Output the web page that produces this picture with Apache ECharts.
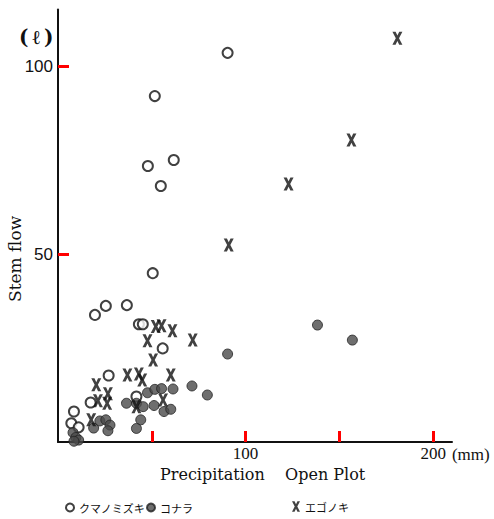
<!DOCTYPE html>
<html><head><meta charset="utf-8">
<script src="https://cdn.jsdelivr.net/npm/echarts@6/dist/echarts.min.js"></script>
<style>html,body{margin:0;padding:0;background:#fff}#c{width:494px;height:519px}</style>
</head><body><div id="c"></div>
<script>
// Precipitation (open plot, mm) vs stem flow (litres)
const seriesNames = ['クマノミズキ', 'コナラ', 'エゴノキ'];
const kumanomizukiX = [90.4, 51.6, 47.9, 61.7, 54.8, 50.5, 19.7, 25.5, 36.7, 43.1, 45.2, 55.8, 27.0, 41.8, 17.4, 8.5, 7.1, 11.0];
const kumanomizukiY = [103.5, 92.0, 73.4, 75.0, 68.1, 44.9, 33.8, 36.2, 36.4, 31.3, 31.3, 24.9, 17.7, 12.1, 10.5, 8.1, 5.0, 3.9];
const konaraX = [138.3, 156.9, 90.4, 47.7, 51.6, 55.2, 61.3, 71.4, 79.6, 36.5, 41.8, 45.4, 51.2, 56.5, 60.1, 44.1, 41.8, 19.0, 22.3, 25.5, 27.7, 26.6, 8.0, 9.5, 11.0, 8.5];
const konaraY = [31.1, 27.1, 23.4, 13.1, 14.0, 14.2, 14.1, 14.9, 12.5, 10.3, 10.3, 9.4, 9.7, 8.1, 8.7, 5.9, 3.6, 3.7, 5.6, 5.9, 4.5, 3.0, 2.5, 1.2, 0.5, 0.2];
const egonokiX = [180.9, 156.4, 122.9, 91.0, 71.8, 52.1, 55.2, 61.0, 47.7, 50.7, 37.0, 43.1, 44.9, 60.1, 56.0, 41.8, 20.4, 26.6, 21.3, 26.2, 17.7];
const egonokiY = [107.4, 80.3, 68.6, 52.4, 27.1, 30.7, 30.9, 29.6, 26.9, 21.8, 17.8, 18.1, 16.5, 17.8, 11.2, 9.4, 15.2, 12.8, 11.0, 10.3, 5.9];
const xTicks = [50, 100, 150, 200];
const xTickLabels = [100, 200];
const yTicks = [50, 100];
const yTickLabels = [50, 100];

function pairs(xs, ys) { return xs.map((x, i) => [x, ys[i]]); }

const xSymbol = 'path://M0,0 L3.2,0 L5,3.8 L6.8,0 L10,0 L6.6,6.5 L10,13 L6.8,13 L5,9.2 L3.2,13 L0,13 L3.4,6.5 Z';
const serif = "'Liberation Serif', 'DejaVu Serif', serif";
const dserif = "'DejaVu Serif', 'Liberation Serif', serif";
const sans = "'Liberation Sans', 'DejaVu Sans', sans-serif";
const jp = "'Noto Sans CJK JP', sans-serif";

const chart = echarts.init(document.getElementById('c'), null, {renderer: 'svg'});
chart.setOption({
  animation: false,
  grid: {left: 58, right: 42, top: 9.6, bottom: 77},
  xAxis: {
    type: 'value', min: 0, max: 210,
    splitLine: {show: false},
    axisLine: {show: true, lineStyle: {color: '#111', width: 2}},
    axisTick: {show: true, inside: true, length: 11, customValues: xTicks, lineStyle: {color: '#f00', width: 3}},
    axisLabel: {
      customValues: xTickLabels,
      color: '#111', fontFamily: serif, fontSize: 17, margin: 3
    },
    name: '(mm)', nameLocation: 'end', nameGap: -5,
    nameTextStyle: {color: '#111', fontFamily: serif, fontSize: 17, align: 'left', verticalAlign: 'top', padding: [4, 0, 0, 0]}
  },
  yAxis: {
    type: 'value', min: 0, max: 115,
    splitLine: {show: false},
    axisLine: {show: true, lineStyle: {color: '#111', width: 2}},
    axisTick: {show: true, inside: true, length: 11, customValues: yTicks, lineStyle: {color: '#f00', width: 3}},
    axisLabel: {
      customValues: yTickLabels,
      color: '#111', fontFamily: sans, fontSize: 17, margin: 5
    }
  },
  graphic: [
    {type: 'text', left: 19, top: 27, style: {text: '(\u2009ℓ\u2009)', font: "bold 20px " + dserif, fill: '#111'}},
    {type: 'text', left: 160, top: 466, style: {text: 'Precipitation    Open Plot', font: "16px " + dserif, fill: '#111'}},
    {type: 'text', x: 6, y: 302, rotation: Math.PI / 2, style: {text: 'Stem flow', font: "17px " + dserif, fill: '#111', textVerticalAlign: 'top'}}
  ],
  legend: [
    {data: [seriesNames[0]], left: 65, top: 502, itemWidth: 8, itemHeight: 8, padding: 0,
     textStyle: {fontFamily: jp, fontSize: 11, color: '#111'}},
    {data: [seriesNames[1]], left: 146, top: 502, itemWidth: 8, itemHeight: 8, padding: 0,
     textStyle: {fontFamily: jp, fontSize: 11, color: '#111'}},
    {data: [seriesNames[2]], left: 292, top: 501, itemWidth: 8, itemHeight: 11, padding: 0,
     textStyle: {fontFamily: jp, fontSize: 11, color: '#111'}}
  ],
  series: [
    {name: seriesNames[0], type: 'scatter', data: pairs(kumanomizukiX, kumanomizukiY),
     symbol: 'emptyCircle', symbolSize: 10,
     itemStyle: {color: '#111', borderColor: '#111', borderWidth: 2.2}},
    {name: seriesNames[1], type: 'scatter', data: pairs(konaraX, konaraY),
     symbol: 'circle', symbolSize: 10,
     itemStyle: {color: '#4a4a4a', borderColor: '#222', borderWidth: 1}},
    {name: seriesNames[2], type: 'scatter', data: pairs(egonokiX, egonokiY),
     symbol: xSymbol, symbolSize: [10, 13],
     itemStyle: {color: '#111'}}
  ]
});
</script></body></html>
